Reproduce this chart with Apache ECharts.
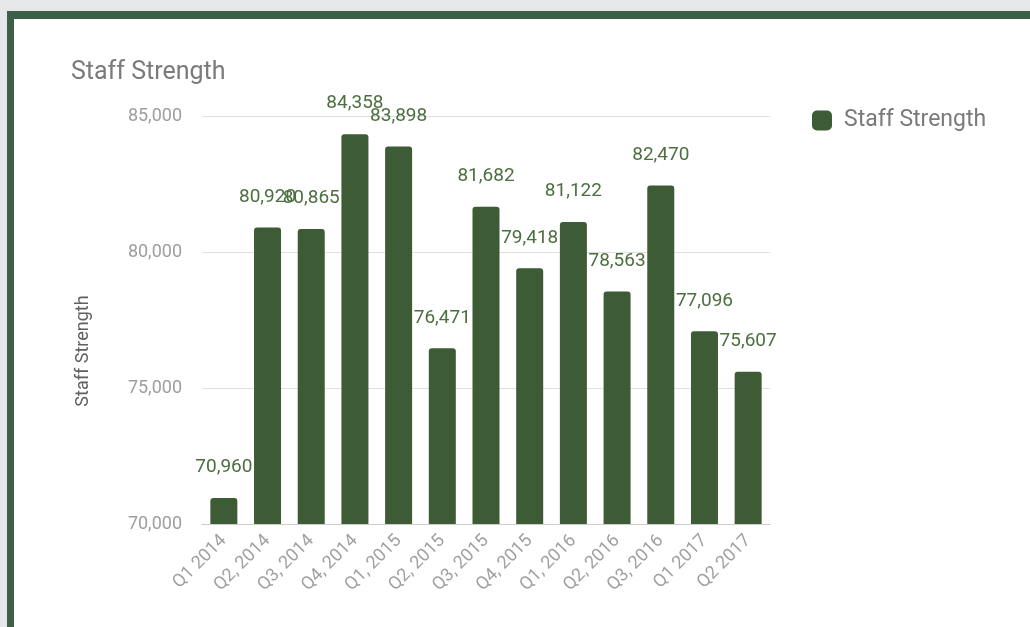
<!DOCTYPE html>
<html>
<head>
<meta charset="utf-8">
<script src="https://cdn.jsdelivr.net/npm/echarts@6/dist/echarts.min.js"></script>
<style>
  html, body { margin:0; padding:0; width:1030px; height:627px; overflow:hidden; background:#e6e7e9; }
  #frame { position:absolute; left:7px; top:11px; width:1200px; height:800px; background:#fff;
           border-left:7px solid #3d5e47; border-top:8px solid #3d5e47; }
  #chart { position:absolute; left:0; top:0; width:1030px; height:627px; }
</style>
</head>
<body>
<div id="frame"></div>
<div id="chart"></div>
<script>
const categories = ['Q1 2014','Q2, 2014','Q3, 2014','Q4, 2014','Q1, 2015','Q2, 2015','Q3, 2015','Q4, 2015','Q1, 2016','Q2, 2016','Q3, 2016','Q1 2017','Q2 2017'];
const staffStrength = [70960, 80920, 80865, 84358, 83898, 76471, 81682, 79418, 81122, 78563, 82470, 77096, 75607];
const yTicks = { min: 70000, max: 85000, interval: 5000 };
const seriesName = 'Staff Strength';

const barColor = '#3d5b34';
const fmt = v => v.toLocaleString('en-US');

const chart = echarts.init(document.getElementById('chart'), null, { renderer: 'canvas' });
chart.setOption({
  backgroundColor: 'transparent',
  textStyle: { fontFamily: 'Roboto' },
  title: {
    text: 'Staff Strength', left: 66, top: 55,
    textStyle: { fontFamily: 'Roboto', fontSize: 25, fontWeight: 'normal', color: '#7a7a7a' }
  },
  legend: {
    data: [seriesName], left: 807, top: 104, icon: 'roundRect', itemWidth: 20, itemHeight: 20,
    textStyle: { fontFamily: 'Roboto', fontSize: 23, color: '#7a7a7a', padding: [0,0,0,7] }
  },
  grid: { left: 202, right: 260, top: 116.7, bottom: 103, containLabel: false },
  xAxis: {
    type: 'category', data: categories,
    axisLine: { lineStyle: { color: '#cccccc' } },
    axisTick: { show: false },
    axisLabel: { rotate: 45, fontSize: 18, color: '#a0a0a0', margin: 14, interval: 0, fontFamily: 'Roboto' }
  },
  yAxis: {
    type: 'value', min: yTicks.min, max: yTicks.max, interval: yTicks.interval,
    axisLine: { show: false }, axisTick: { show: false },
    splitLine: { lineStyle: { color: '#e0e0e0' } },
    axisLabel: { fontSize: 18, color: '#9e9e9e', margin: 20, formatter: v => fmt(v), fontFamily: 'Roboto' }
  },
  graphic: [{
    type: 'text',
    x: 83, y: 351,
    rotation: Math.PI / 2,
    style: { text: 'Staff Strength', font: '18px Roboto', fill: '#616161', textAlign: 'center', textVerticalAlign: 'middle' }
  }],
  series: [{
    name: seriesName, type: 'bar', data: staffStrength, barWidth: 27,
    itemStyle: { color: barColor, borderRadius: [3,3,0,0] },
    label: { show: true, position: 'top', distance: 21, fontSize: 19, color: '#4d6f40',
             fontFamily: 'Roboto', formatter: p => fmt(p.value) }
  }]
});
</script>
</body>
</html>
